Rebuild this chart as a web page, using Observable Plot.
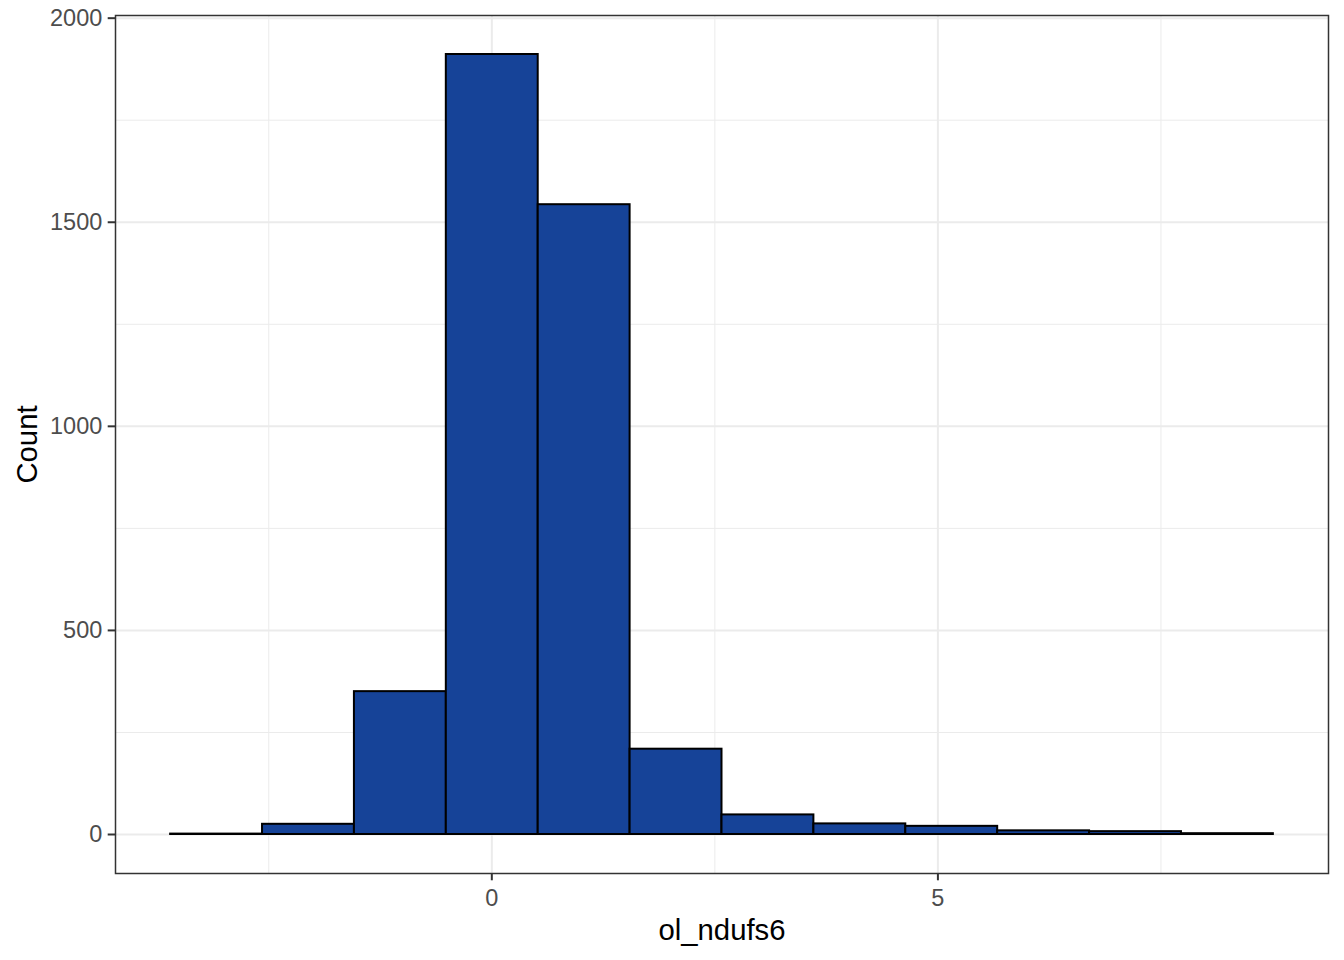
<!DOCTYPE html>
<html>
<head>
<meta charset="utf-8">
<script src="https://cdn.jsdelivr.net/npm/d3@7"></script>
<script src="https://cdn.jsdelivr.net/npm/@observablehq/plot@0.6"></script>
<style>
  html, body { margin: 0; padding: 0; background: #ffffff; }
</style>
</head>
<body>
<div id="chart"></div>
<script>
// Histogram bin edges (ol_ndufs6) and counts
const binEdges = [-3.6, -2.57, -1.54, -0.51, 0.52, 1.55, 2.58, 3.61, 4.64, 5.67, 6.70, 7.73, 8.76];
const counts   = [1, 25, 350, 1911, 1543, 209, 48, 26, 20, 9, 7, 2];
const xMajor = [0, 5];
const xMinor = [-2.5, 2.5, 7.5];
const yMajor = [0, 500, 1000, 1500, 2000];
const yMinor = [250, 750, 1250, 1750];
const xTitle = "ol_ndufs6";
const yTitle = "Count";

const bins = counts.map((c, i) => ({x1: binEdges[i], x2: binEdges[i + 1], y: c}));

const xMin = binEdges[0], xMax = binEdges[binEdges.length - 1];
const xPad = (xMax - xMin) * 0.05;
const yMax = d3.max(counts);
const yPad = yMax * 0.05;

const chart = Plot.plot({
  width: 1344,
  height: 960,
  marginLeft: 115,
  marginRight: 16,
  marginTop: 15,
  marginBottom: 87,
  style: {fontFamily: "'Liberation Sans', Arial, sans-serif", background: "#ffffff"},
  x: {domain: [xMin - xPad, xMax + xPad], axis: null},
  y: {domain: [-yPad, yMax + yPad], axis: null},
  marks: [
    Plot.ruleX(xMinor, {stroke: "#ebebeb", strokeWidth: 1}),
    Plot.ruleY(yMinor, {stroke: "#ebebeb", strokeWidth: 1}),
    Plot.ruleX(xMajor, {stroke: "#ebebeb", strokeWidth: 2}),
    Plot.ruleY(yMajor, {stroke: "#ebebeb", strokeWidth: 2}),
    Plot.rectY(bins, {x1: "x1", x2: "x2", y: "y", fill: "#164398", stroke: "#000000", strokeWidth: 2}),
    Plot.frame({stroke: "#333333", strokeWidth: 1.5}),
    Plot.axisX({ticks: xMajor, tickSize: 7.3, tickPadding: 8.5, fontSize: 23.5, stroke: "#333333", fill: "#4d4d4d", strokeWidth: 2, label: null, tickFormat: d3.format("d")}),
    Plot.axisY({ticks: yMajor, tickSize: 7.3, tickPadding: 5.9, fontSize: 23.5, stroke: "#333333", fill: "#4d4d4d", strokeWidth: 2, label: null, tickFormat: d3.format("d")}),
    Plot.text([xTitle], {frameAnchor: "bottom", lineAnchor: "middle", textAnchor: "middle", dy: 57, fontSize: 29.3, fill: "#000000"}),
    Plot.text([yTitle], {frameAnchor: "left", lineAnchor: "middle", textAnchor: "middle", dx: -88, rotate: -90, fontSize: 29.3, fill: "#000000"})
  ]
});
document.getElementById("chart").appendChild(chart);
</script>
</body>
</html>
